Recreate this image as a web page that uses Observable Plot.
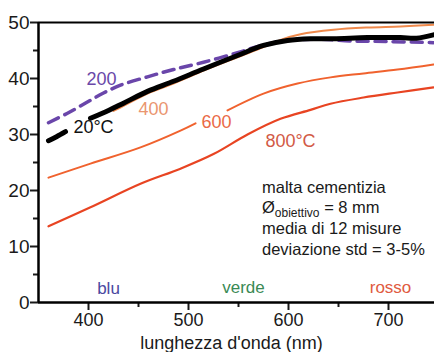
<!DOCTYPE html>
<html><head><meta charset="utf-8">
<script src="https://cdn.jsdelivr.net/npm/d3@7"></script>
<script src="https://cdn.jsdelivr.net/npm/@observablehq/plot@0.6"></script>
<style>body{margin:0;background:#fff;} svg{display:block}</style>
</head><body><div id="chart"></div>
<script>
// Reflectance (%) vs wavelength (nm) – malta cementizia
const nm20  = [360, 368, 377, 392, 402, 420, 435, 459, 485, 515, 549, 575, 599, 622, 645, 679, 712, 728, 745];
const r20   = [28.9, 29.6, 30.5, NaN, 32.9, 34.3, 35.6, 37.7, 39.5, 41.7, 44.1, 45.9, 46.8, 47.1, 47.1, 47.3, 47.3, 47.2, 47.8];
const nm200 = [360, 379, 398, 415, 432, 459, 485, 515, 549, 575, 600, 630, 662, 700, 745];
const r200  = [32.1, 33.8, 35.7, 37.4, 38.8, 40.3, 41.6, 42.9, 44.6, 46.0, 46.8, 47.0, 46.7, 46.6, 46.4];
const nm400 = [425, 435, 459, 485, 515, 549, 575, 592, 612, 645, 679, 712, 745];
const r400  = [34.2, 35.1, 37.3, 39.1, 41.4, 43.8, 45.6, 46.9, 47.9, 48.7, 49.1, 49.3, 49.6];
const nm600 = [360, 402, 452, 492, 507, 522, 539, 575, 609, 642, 675, 709, 745];
const r600  = [22.3, 24.8, 27.7, 30.7, 32.0, NaN, 34.3, 37.3, 39.1, 40.2, 40.9, 41.6, 42.5];
const nm800 = [360, 402, 452, 492, 525, 559, 592, 622, 642, 675, 709, 745];
const r800  = [13.6, 17.0, 21.2, 23.9, 26.5, 30.0, 32.8, 34.4, 35.5, 36.6, 37.5, 38.4];

const yTicks = [0, 10, 20, 30, 40, 50];
const yMinor = [5, 15, 25, 35, 45];
const xTicks = [400, 500, 600, 700];
const xMinor = [450, 550, 650];

const curveLabels = [
  {t: "200",   x: 413, y: 38.8, c: "#6a48a8"},
  {t: "20°C",  x: 405, y: 30.2, c: "#111111"},
  {t: "400",   x: 465, y: 33.4, c: "#ea9670"},
  {t: "600",   x: 528, y: 31.1, c: "#ea6a46"},
  {t: "800°C", x: 602, y: 27.7, c: "#d25a46"}
];
const bandLabels = [
  {t: "blu",   x: 420, y: 1.6, c: "#4a48a0"},
  {t: "verde", x: 555, y: 1.7, c: "#3a8a55"},
  {t: "rosso", x: 702, y: 1.7, c: "#e05a40"}
];
const infoLines = ["malta cementizia", ["Ø", "obiettivo", " = 8 mm"], "media di 12 misure", "deviazione std = 3-5%"];
const infoX = 574;
const infoY = [19.5, 15.9, 12.2, 8.4];

const rows = (nm, r) => nm.map((x, i) => ({nm: x, r: r[i]}));
const font = "Liberation Sans, Arial, Helvetica, sans-serif";

const chart = Plot.plot({
  width: 434, height: 352,
  marginLeft: 38, marginRight: 0, marginTop: 22, marginBottom: 50,
  style: {fontFamily: font, background: "#fff", color: "#1a1a1a", overflow: "visible"},
  x: {domain: [350, 746]},
  y: {domain: [0, 50]},
  marks: [
    Plot.line(rows(nm800, r800), {x: "nm", y: "r", stroke: "#e84422", strokeWidth: 2.2, curve: "catmull-rom"}),
    Plot.line(rows(nm600, r600), {x: "nm", y: "r", stroke: "#f0622e", strokeWidth: 2, curve: "catmull-rom"}),
    Plot.line(rows(nm400, r400), {x: "nm", y: "r", stroke: "#f08a4c", strokeWidth: 2, curve: "catmull-rom"}),
    Plot.line(rows(nm200, r200), {x: "nm", y: "r", stroke: "#6a46aa", strokeWidth: 3.5, strokeDasharray: "11,7", curve: "catmull-rom"}),
    Plot.line(rows(nm20, r20), {x: "nm", y: "r", stroke: "#000", strokeWidth: 5, strokeLinecap: "round", curve: "catmull-rom"}),
    Plot.text(curveLabels, {x: "x", y: "y", text: "t", fill: "c", fontSize: 18, lineAnchor: "bottom", textAnchor: "middle"}),
    Plot.text(bandLabels, {x: "x", y: "y", text: "t", fill: "c", fontSize: 17, lineAnchor: "bottom", textAnchor: "middle"}),
    Plot.axisY(yTicks, {tickSize: 8, tickPadding: 1, fontSize: 19, strokeWidth: 2, label: null}),
    Plot.axisY(yMinor, {tickSize: 5, tickFormat: () => "", strokeWidth: 2, label: null}),
    Plot.axisX(xTicks, {tickSize: 8, tickPadding: 3, fontSize: 18, strokeWidth: 2, label: null}),
    Plot.axisX(xMinor, {tickSize: 5, tickFormat: () => "", strokeWidth: 2, label: null}),
    Plot.text(["lunghezza d'onda (nm)"], {frameAnchor: "bottom", dy: 41, dx: -5, fontSize: 18, lineAnchor: "middle", fill: "#1a1a1a"}),
    Plot.ruleY([50], {stroke: "#000", strokeWidth: 2}),
    Plot.ruleY([0], {stroke: "#000", strokeWidth: 2.5}),
    Plot.ruleX([350], {stroke: "#000", strokeWidth: 2.5})
  ]
});

// info block with subscript
const sx = chart.scale("x"), sy = chart.scale("y");
const svg = d3.select(chart);
infoLines.forEach((ln, i) => {
  const t = svg.append("text")
    .attr("x", sx.apply(infoX)).attr("y", sy.apply(infoY[i]))
    .attr("text-anchor", "start")
    .attr("font-family", font).attr("font-size", 16.5).attr("fill", "#1a1a1a");
  if (Array.isArray(ln)) {
    t.append("tspan").text(ln[0]);
    t.append("tspan").attr("font-size", 12).attr("dy", 4).text(ln[1]);
    t.append("tspan").attr("dy", -4).text(ln[2]);
  } else {
    t.text(ln);
  }
});

document.getElementById("chart").append(chart);
</script>
</body></html>
